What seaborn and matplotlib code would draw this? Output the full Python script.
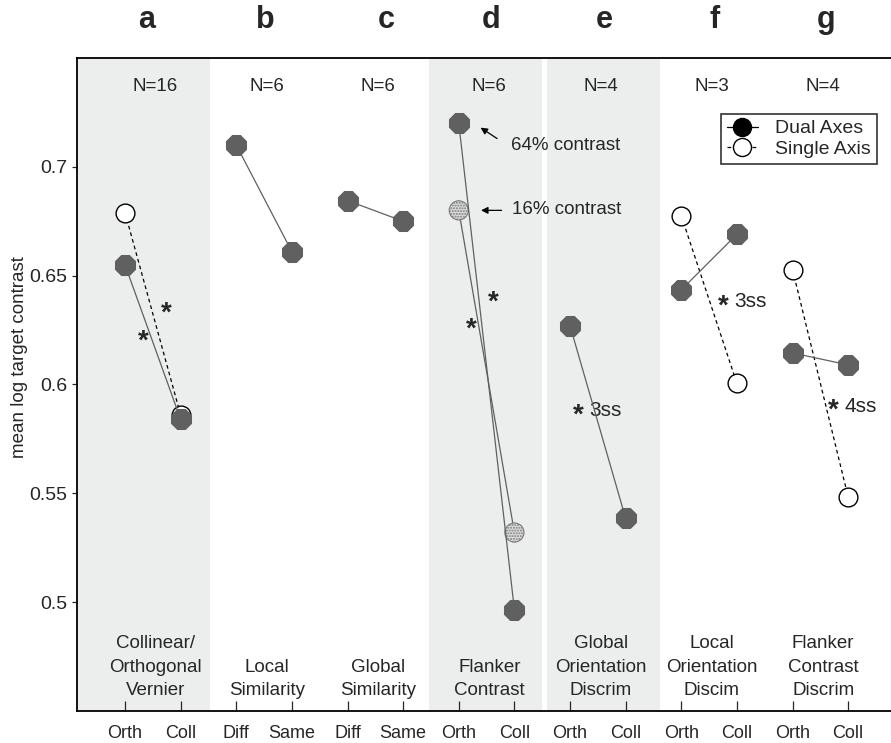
import numpy as np
import pandas as pd
import matplotlib
matplotlib.use("Agg")
import matplotlib.pyplot as plt
from matplotlib.lines import Line2D
import seaborn as sns

# ----------------------------------------------------------------------
# Data
# ----------------------------------------------------------------------
COND_LABELS = ["Orth", "Coll", "Diff", "Same", "Diff", "Same", "Orth", "Coll",
               "Orth", "Coll", "Orth", "Coll", "Orth", "Coll"]
PANEL_LETTERS = ["a", "b", "c", "d", "e", "f", "g"]
PANEL_N = [16, 6, 6, 6, 4, 3, 4]
PANEL_NAMES = ["Collinear/\nOrthogonal\nVernier", "Local\nSimilarity",
               "Global\nSimilarity", "Flanker\nContrast",
               "Global\nOrientation\nDiscrim", "Local\nOrientation\nDiscim",
               "Flanker\nContrast\nDiscrim"]

nan = np.nan
# mean log target contrast, two conditions per panel
DUAL_AXES = [0.655, 0.584, 0.710, 0.661, 0.6845, 0.675, 0.720, 0.4965,
             0.627, 0.5385, 0.6435, 0.669, 0.6145, 0.609]
SINGLE_AXIS = [0.679, 0.586, nan, nan, nan, nan, nan, nan,
               nan, nan, 0.6775, 0.6005, 0.6528, 0.5483]
FLANKER_16 = [nan, nan, nan, nan, nan, nan, 0.680, 0.532,
              nan, nan, nan, nan, nan, nan]

# significance marks (x, y, note)
STARS = [(1.33, 0.622, ""), (1.74, 0.6346, ""), (7.22, 0.6275, ""),
         (7.62, 0.640, ""), (9.15, 0.588, "3ss"), (11.75, 0.638, "3ss"),
         (13.73, 0.590, "4ss")]

# layout: letter placement over each panel
LETTER_X = [1.38, 3.52, 5.70, 7.58, 9.62, 11.6, 13.6]

SHADE = "#eceeed"
GREY = "#606060"

sns.set_style("ticks")
plt.rcParams["font.family"] = ["Liberation Sans", "DejaVu Sans"]

pos = np.arange(1, len(COND_LABELS) + 1)
df = pd.DataFrame({
    "pos": pos,
    "panel": (pos - 1) // 2,
    "dual": DUAL_AXES,
    "single": SINGLE_AXIS,
    "c16": FLANKER_16,
})

fig = plt.figure(figsize=(8.91, 7.43), dpi=100)
ax = fig.add_axes([77 / 891, 32 / 743, 814 / 891, 653 / 743])
ax.set_xlim(0.137, 14.77)
ax.set_ylim(0.45, 0.75)

# shaded panels
ax.axvspan(0.137, 2.53, color=SHADE, lw=0, zorder=0)
ax.axvspan(6.47, 8.50, color=SHADE, lw=0, zorder=0)
ax.axvspan(8.59, 10.62, color=SHADE, lw=0, zorder=0)

single = df.dropna(subset=["single"])
sns.lineplot(data=single, x="pos", y="single", units="panel", estimator=None,
             color="black", lw=0.9, linestyle=(0, (3, 2.5)), marker="o",
             markersize=13.5, markerfacecolor="white", markeredgecolor="black",
             markeredgewidth=1.0, ax=ax, zorder=3)

c16 = df.dropna(subset=["c16"])
sns.lineplot(data=c16, x="pos", y="c16", units="panel", estimator=None,
             color=GREY, lw=0.9, ax=ax, zorder=3)
sns.scatterplot(data=c16, x="pos", y="c16", marker="o", s=190,
                facecolor="#dedede", edgecolor="#7a7a7a", linewidth=0.8,
                hatch="......", ax=ax, zorder=4)

sns.lineplot(data=df, x="pos", y="dual", units="panel", estimator=None,
             color=GREY, lw=0.9, marker="8", markersize=15.5,
             markerfacecolor=GREY, markeredgecolor=GREY, ax=ax, zorder=5)

# panel letters, N and names
for i, letter in enumerate(PANEL_LETTERS):
    cx = 2 * i + 1.55
    ax.text(LETTER_X[i], 0.7675, letter, ha="center", va="center", fontsize=22,
            fontweight="bold", clip_on=False)
    ax.text(cx, 0.7367, f"N={PANEL_N[i]}", ha="center", va="center", fontsize=13.5)
    ax.text(cx, 0.4555, PANEL_NAMES[i], ha="center", va="bottom",
            multialignment="center", fontsize=13.5, linespacing=1.5)

# significance stars
for sx, sy, note in STARS:
    ax.text(sx, sy - 0.0022, "*", ha="center", va="center", fontsize=20,
            fontweight="bold")
    if note:
        ax.text(sx + 0.2, sy, note, ha="left", va="center", fontsize=15)

# contrast annotations in panel d
ax.annotate("", xy=(7.35, 0.7187), xytext=(7.73, 0.7123),
            arrowprops=dict(arrowstyle="-|>", color="black", lw=0.9,
                            mutation_scale=10))
ax.text(7.94, 0.7097, "64% contrast", ha="left", va="center", fontsize=13.5)
ax.annotate("", xy=(7.35, 0.680), xytext=(7.82, 0.680),
            arrowprops=dict(arrowstyle="-|>", color="black", lw=0.9,
                            mutation_scale=10))
ax.text(7.96, 0.6804, "16% contrast", ha="left", va="center", fontsize=13.5)

# legend
handles = [
    Line2D([], [], color="black", lw=0.9, marker="o", markersize=13,
           markerfacecolor="black", markeredgecolor="black"),
    Line2D([], [], color="black", lw=0.9, linestyle=(0, (3, 2)), marker="o",
           markersize=13, markerfacecolor="white", markeredgecolor="black"),
]
leg = ax.legend(handles, ["Dual Axes", "Single Axis"], loc="upper left",
                bbox_to_anchor=(721 / 891, 1 - 114 / 743),
                bbox_transform=fig.transFigure, fontsize=14, frameon=True,
                fancybox=False, handlelength=1.6, handletextpad=0.9,
                borderpad=0.3, labelspacing=0.15, borderaxespad=0)
leg.get_frame().set_edgecolor("black")
leg.get_frame().set_linewidth(1.2)

# axes
ax.set_xticks(pos)
ax.set_xticklabels(COND_LABELS)
ax.set_yticks([0.5, 0.55, 0.6, 0.65, 0.7])
ax.set_yticklabels(["0.5", "0.55", "0.6", "0.65", "0.7"])
ax.tick_params(axis="x", direction="in", length=7, pad=10, labelsize=13,
               width=0.9)
ax.tick_params(axis="y", direction="out", length=3.5, labelsize=14, width=0.9)
ax.set_xlabel("")
ax.set_ylabel("mean log target contrast", fontsize=13.5)
ax.yaxis.set_label_coords(-0.060, 0.542)
for side in ["left", "bottom", "top"]:
    ax.spines[side].set_linewidth(1.3)
    ax.spines[side].set_color("black")
ax.spines["right"].set_visible(False)

fig.savefig("out.png", dpi=100)
